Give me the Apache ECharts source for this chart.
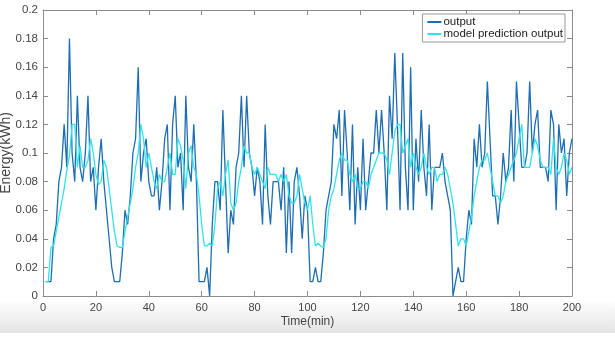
<!DOCTYPE html>
<html>
<head>
<meta charset="utf-8">
<script src="https://cdn.jsdelivr.net/npm/echarts@6/dist/echarts.min.js"></script>
<style>
  html, body { margin: 0; padding: 0; background: #fff; }
  #band { position: absolute; left: 0; top: 300px; width: 615px; height: 33px;
          background: linear-gradient(to bottom, #ffffff, #e4e4e4); }
  #main { position: absolute; left: 0; top: 0; width: 615px; height: 346px; }
</style>
</head>
<body>
<div id="band"></div>
<div id="main"></div>
<script>
// measured output (kWh), one value per minute, t = 1..200
const output = [
  0.01, 0.01, 0.01, 0.04, 0.05, 0.08, 0.09, 0.12, 0.09, 0.18,
  0.10, 0.08, 0.14, 0.09, 0.08, 0.10, 0.14, 0.08, 0.09, 0.06,
  0.09, 0.11, 0.08, 0.06, 0.04, 0.02, 0.01, 0.01, 0.01, 0.03,
  0.06, 0.05, 0.07, 0.10, 0.11, 0.16, 0.08, 0.10, 0.11, 0.08,
  0.07, 0.07, 0.09, 0.06, 0.08, 0.11, 0.12, 0.06, 0.12, 0.14,
  0.09, 0.10, 0.06, 0.14, 0.09, 0.08, 0.12, 0.08, 0.01, 0.01,
  0.01, 0.02, 0.00, 0.05, 0.08, 0.08, 0.06, 0.13, 0.08, 0.03,
  0.06, 0.05, 0.09, 0.10, 0.14, 0.09, 0.14, 0.10, 0.09, 0.07,
  0.09, 0.08, 0.05, 0.12, 0.07, 0.05, 0.08, 0.08, 0.08, 0.06,
  0.09, 0.03, 0.08, 0.03, 0.08, 0.09, 0.07, 0.04, 0.07, 0.06,
  0.01, 0.01, 0.02, 0.01, 0.01, 0.03, 0.06, 0.07, 0.08, 0.12,
  0.11, 0.13, 0.07, 0.13, 0.10, 0.06, 0.12, 0.05, 0.09, 0.06,
  0.11, 0.06, 0.08, 0.10, 0.10, 0.13, 0.10, 0.13, 0.10, 0.06,
  0.14, 0.11, 0.17, 0.12, 0.06, 0.17, 0.09, 0.06, 0.16, 0.06,
  0.11, 0.08, 0.13, 0.09, 0.07, 0.12, 0.06, 0.09, 0.09, 0.09,
  0.10, 0.08, 0.07, 0.06, 0.00, 0.01, 0.02, 0.01, 0.01, 0.04,
  0.06, 0.05, 0.11, 0.09, 0.12, 0.09, 0.10, 0.15, 0.11, 0.07,
  0.07, 0.05, 0.07, 0.10, 0.08, 0.09, 0.13, 0.08, 0.15, 0.12,
  0.09, 0.09, 0.10, 0.15, 0.10, 0.12, 0.13, 0.09, 0.09, 0.09,
  0.08, 0.13, 0.12, 0.06, 0.12, 0.10, 0.11, 0.07, 0.10, 0.11
];
// model prediction output (kWh)
const prediction = [
  0.010, 0.010, 0.034, 0.035, 0.045, 0.055, 0.065, 0.075, 0.088, 0.098,
  0.120, 0.120, 0.090, 0.105, 0.090, 0.090, 0.095, 0.110, 0.100, 0.085,
  0.078, 0.080, 0.095, 0.090, 0.075, 0.060, 0.045, 0.035, 0.034, 0.034,
  0.045, 0.055, 0.065, 0.075, 0.090, 0.100, 0.120, 0.110, 0.090, 0.100,
  0.090, 0.080, 0.075, 0.085, 0.080, 0.080, 0.090, 0.100, 0.085, 0.085,
  0.110, 0.105, 0.095, 0.075, 0.100, 0.105, 0.090, 0.085, 0.070, 0.050,
  0.035, 0.035, 0.037, 0.035, 0.050, 0.075, 0.080, 0.070, 0.085, 0.095,
  0.065, 0.060, 0.065, 0.080, 0.090, 0.105, 0.100, 0.100, 0.090, 0.085,
  0.090, 0.085, 0.080, 0.075, 0.090, 0.085, 0.085, 0.085, 0.080, 0.085,
  0.080, 0.085, 0.070, 0.065, 0.065, 0.070, 0.085, 0.075, 0.065, 0.060,
  0.070, 0.050, 0.035, 0.037, 0.035, 0.034, 0.040, 0.060, 0.070, 0.075,
  0.085, 0.095, 0.100, 0.095, 0.095, 0.085, 0.080, 0.085, 0.075, 0.075,
  0.080, 0.080, 0.075, 0.085, 0.090, 0.095, 0.100, 0.100, 0.100, 0.095,
  0.085, 0.100, 0.115, 0.120, 0.120, 0.100, 0.105, 0.110, 0.090, 0.100,
  0.090, 0.085, 0.090, 0.100, 0.090, 0.085, 0.090, 0.090, 0.080, 0.085,
  0.085, 0.090, 0.085, 0.075, 0.065, 0.050, 0.035, 0.040, 0.040, 0.035,
  0.045, 0.055, 0.070, 0.080, 0.090, 0.095, 0.095, 0.100, 0.090, 0.080,
  0.070, 0.070, 0.065, 0.070, 0.080, 0.085, 0.090, 0.095, 0.100, 0.110,
  0.120, 0.090, 0.090, 0.090, 0.100, 0.110, 0.105, 0.095, 0.090, 0.090,
  0.090, 0.085, 0.110, 0.090, 0.085, 0.090, 0.100, 0.095, 0.085, 0.090
];
const seriesNames = ['output', 'model prediction output'];

const axisGray = '#8c8c8c';
const labelGray = '#444';
const font = 'Liberation Sans, Arial, sans-serif';

function toPairs(arr) {
  // minute index starts at 1
  return arr.map((v, i) => [i + 1, v]);
}

const chart = echarts.init(document.getElementById('main'));
const boxAxis = {
  axisLine: { show: true, onZero: false, lineStyle: { color: axisGray, width: 1 } },
  axisTick: { show: true, inside: true, length: 5, lineStyle: { color: axisGray } },
  splitLine: { show: false }
};
chart.setOption({
  animation: false,
  grid: { left: 43, right: 43, top: 10, bottom: 50, containLabel: false, outerBoundsMode: 'none' },
  legend: {
    data: seriesNames,
    orient: 'vertical',
    right: 50,
    top: 14,
    itemWidth: 14,
    itemHeight: 2,
    itemGap: 0,
    padding: [2, 2, 2, 4],
    borderColor: '#999',
    borderWidth: 1,
    backgroundColor: '#fff',
    textStyle: { color: '#222', fontSize: 11.5, fontFamily: font, padding: [0, 0, 0, -3] }
  },
  xAxis: [
    Object.assign({
      type: 'value', min: 0, max: 200, interval: 20, position: 'bottom',
      name: 'Time(min)', nameLocation: 'middle', nameGap: 20, nameMoveOverlap: false,
      nameTextStyle: { color: labelGray, fontSize: 12, fontFamily: font },
      axisLabel: { color: labelGray, fontSize: 11, fontFamily: font, margin: 6 }
    }, boxAxis),
    Object.assign({
      type: 'value', min: 0, max: 200, interval: 20, position: 'top',
      axisLabel: { show: false }
    }, boxAxis)
  ],
  yAxis: [
    Object.assign({
      type: 'value', min: 0, max: 0.2, interval: 0.02, position: 'left',
      name: 'Energy(kWh)', nameLocation: 'middle', nameGap: 30, nameMoveOverlap: false,
      nameTextStyle: { color: labelGray, fontSize: 14, fontFamily: font },
      axisLabel: {
        color: labelGray, fontSize: 11.5, fontFamily: font, margin: 5,
        formatter: v => String(+v.toFixed(2))
      }
    }, boxAxis),
    Object.assign({
      type: 'value', min: 0, max: 0.2, interval: 0.02, position: 'right',
      axisLabel: { show: false }
    }, boxAxis)
  ],
  series: [
    {
      name: seriesNames[0], type: 'line', symbol: 'none',
      data: toPairs(output),
      lineStyle: { color: '#1d6db3', width: 1.3 },
      itemStyle: { color: '#1d6db3' },
      z: 2
    },
    {
      name: seriesNames[1], type: 'line', symbol: 'none',
      data: toPairs(prediction),
      lineStyle: { color: '#2fe3ea', width: 1.3 },
      itemStyle: { color: '#2fe3ea' },
      z: 3
    }
  ]
});
</script>
</body>
</html>
